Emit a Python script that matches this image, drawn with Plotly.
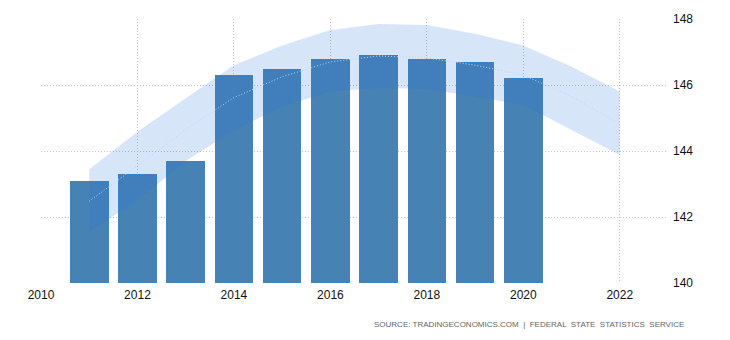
import plotly.graph_objects as go

years = [2011, 2012, 2013, 2014, 2015, 2016, 2017, 2018, 2019, 2020]
population = [143.09, 143.3, 143.7, 146.3, 146.5, 146.8, 146.9, 146.8, 146.7, 146.2]

trend_years = [2011, 2012, 2013, 2014, 2015, 2016, 2017, 2018, 2019, 2020, 2021, 2022]
trend_mid = [142.48, 143.55, 144.65, 145.62, 146.25, 146.7, 146.88, 146.82, 146.6, 146.3, 145.65, 144.82]
trend_upper = [143.45, 144.58, 145.6, 146.6, 147.2, 147.67, 147.85, 147.82, 147.55, 147.2, 146.55, 145.8]
trend_lower = [141.55, 142.5, 143.7, 144.62, 145.35, 145.8, 145.92, 145.88, 145.65, 145.4, 144.64, 143.88]

x_ticks = [2010, 2012, 2014, 2016, 2018, 2020, 2022]
y_ticks = [140, 142, 144, 146, 148]

fig = go.Figure()
fig.add_trace(go.Bar(x=years, y=population, width=0.8,
                     marker=dict(color="#4682b4", line=dict(width=0))))
fig.add_trace(go.Scatter(x=trend_years, y=trend_upper, mode="lines",
                         line=dict(width=0, color="rgba(0,0,0,0)"), showlegend=False, hoverinfo="skip"))
fig.add_trace(go.Scatter(x=trend_years, y=trend_lower, mode="lines", fill="tonexty",
                         fillcolor="rgba(40,115,220,0.19)",
                         line=dict(width=0, color="rgba(0,0,0,0)"), showlegend=False, hoverinfo="skip"))
fig.add_trace(go.Scatter(x=trend_years, y=trend_mid, mode="lines",
                         line=dict(width=1, color="rgba(185,212,248,0.95)", dash="1px,2px"),
                         showlegend=False, hoverinfo="skip"))

grid = dict(showgrid=True, gridcolor="#c4c4c4", griddash="1px,2px", gridwidth=1, zeroline=False,
            showline=False, ticks="")
fig.update_layout(
    width=730, height=340,
    margin=dict(l=41, r=62, t=19, b=57),
    plot_bgcolor="white", paper_bgcolor="white",
    showlegend=False,
    font=dict(family="Liberation Sans, Arial, sans-serif", size=12, color="#111111"),
    xaxis=dict(range=[2010, 2023], tickvals=x_ticks, ticktext=[str(v) for v in x_ticks],
               ticklabelstandoff=3, **grid),
    yaxis=dict(range=[140, 148], tickvals=y_ticks, side="right", ticklabelstandoff=4, **grid),
    bargap=0,
    annotations=[dict(
        text="SOURCE: TRADINGECONOMICS.COM  |  FEDERAL  STATE  STATISTICS  SERVICE",
        xref="paper", yref="paper", x=1.0287, y=-0.159, xanchor="right", yanchor="middle",
        showarrow=False, font=dict(size=8, color="#666666", family="Liberation Sans, Arial, sans-serif"))],
)
fig.write_html("out.html")
